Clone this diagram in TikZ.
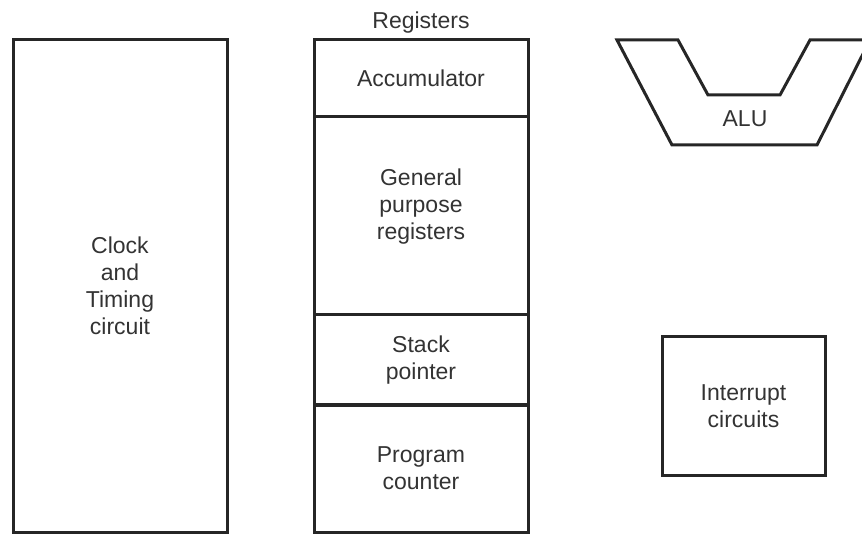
\documentclass[tikz,border=0pt]{standalone}
\usepackage{fontspec}
\setmainfont{Liberation Sans}
\usetikzlibrary{positioning}

\begin{document}
\begin{tikzpicture}[x=1pt, y=-1pt,
		blk/.style={draw=black!85, line width=3pt, minimum width=214pt,
			align=center, inner sep=0pt, outer sep=0pt, text=black!80,
			font=\fontsize{23}{27}\selectfont},
		lbl/.style={inner sep=0pt, text=black!80, font=\fontsize{23}{27}\selectfont},
		alu/.style={draw=black!85, line width=3pt}
		]
		\useasboundingbox (0,0) rectangle (862,534);
		\clip (0,0) rectangle (862,534);
		\node[blk, minimum height=492pt] (clock) at (120,286) {Clock\\and\\Timing\\circuit};
		\node[blk, minimum height=77pt] (acc) at (421,78.5) {Accumulator};
		\node[blk, minimum height=198pt, text depth=24pt, below=0pt of acc] (gpr) {General\\purpose\\registers};
		\node[blk, minimum height=90pt, below=0pt of gpr] (sp) {Stack\\pointer};
		\node[blk, minimum height=127pt, below=0pt of sp] (pc) {Program\\counter};
		\node[lbl, above=7pt of acc] (regs) {Registers};
		\node[blk, minimum width=163pt, minimum height=138pt] (intr) at (743.5,406) {Interrupt\\circuits};
		\draw[alu] (617,40) -- (678,40) -- (708,95) -- (780,95) -- (810,40)
			-- (870,40) -- (817,145) -- (672,145) -- cycle;
		\node[lbl] (alutext) at (745,119) {ALU};
	\end{tikzpicture}
\end{document}
